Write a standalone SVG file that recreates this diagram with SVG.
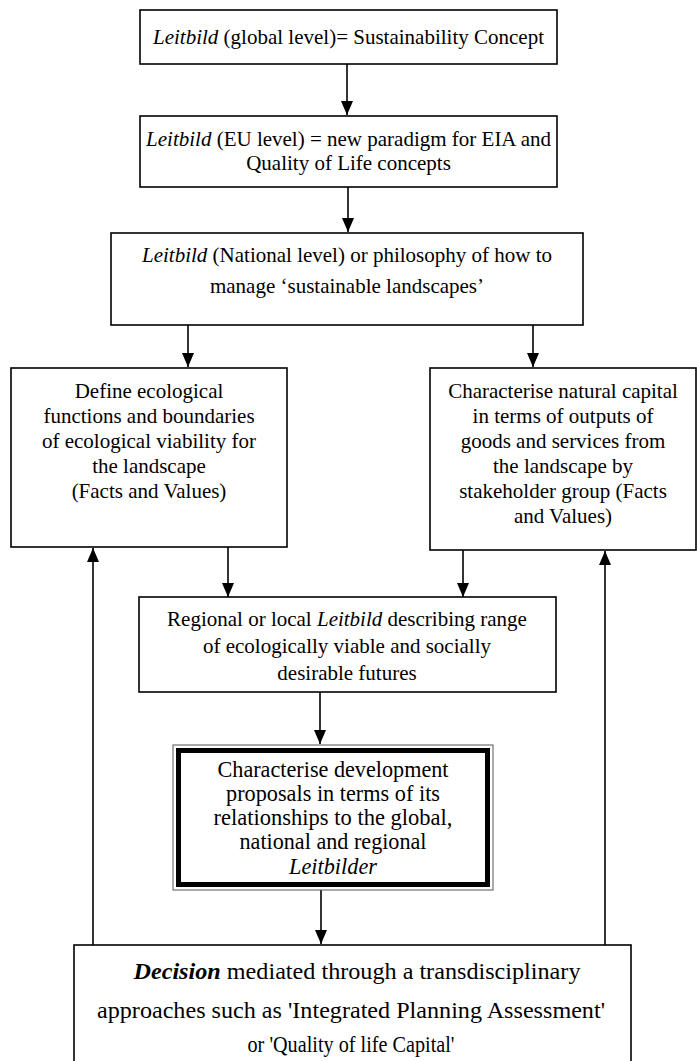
<svg xmlns="http://www.w3.org/2000/svg" width="697" height="1061" viewBox="0 0 697 1061">
<defs>
<marker id="ah" viewBox="0 0 14 12" refX="14" refY="6" markerWidth="14" markerHeight="12" markerUnits="userSpaceOnUse" orient="auto">
<path d="M0,0 L14,6 L0,12 Z" fill="#000"/>
</marker>
<style>
.box{fill:#fff;stroke:#000;stroke-width:1.6}
text{font-family:'Liberation Serif','Times New Roman',serif;font-size:21px;fill:#000;text-anchor:middle}
.c{stroke:#000;stroke-width:1.6;fill:none}
.i{font-style:italic}
</style>
</defs>
<rect width="697" height="1061" fill="#fff"/>
<g id="connectors">
<line class="c" x1="347" y1="64" x2="347" y2="115" marker-end="url(#ah)"/>
<line class="c" x1="348" y1="187" x2="348" y2="232" marker-end="url(#ah)"/>
<line class="c" x1="188" y1="325" x2="188" y2="367" marker-end="url(#ah)"/>
<line class="c" x1="533" y1="325" x2="533" y2="367" marker-end="url(#ah)"/>
<line class="c" x1="228" y1="547" x2="228" y2="597" marker-end="url(#ah)"/>
<line class="c" x1="463" y1="550" x2="463" y2="597" marker-end="url(#ah)"/>
<line class="c" x1="320" y1="692" x2="320" y2="744" marker-end="url(#ah)"/>
<line class="c" x1="321" y1="890" x2="321" y2="944" marker-end="url(#ah)"/>
<line class="c" x1="93" y1="945" x2="93" y2="548" marker-end="url(#ah)"/>
<line class="c" x1="605" y1="948" x2="605" y2="551" marker-end="url(#ah)"/>
</g>
<g id="n1">
<rect class="box" x="140" y="10" width="417" height="54"/>
<text x="348.5" y="44"><tspan class="i">Leitbild</tspan> (global level)= Sustainability Concept</text>
</g>
<g id="n2">
<rect class="box" x="140" y="116" width="417" height="71"/>
<text x="348.5" y="146"><tspan class="i">Leitbild</tspan> (EU level) = new paradigm for EIA and</text>
<text x="348.5" y="170">Quality of Life concepts</text>
</g>
<g id="n3">
<rect class="box" x="111" y="233" width="472" height="92"/>
<text x="347" y="262"><tspan class="i">Leitbild</tspan> (National level) or philosophy of how to</text>
<text x="347" y="293">manage ‘sustainable landscapes’</text>
</g>
<g id="n4">
<rect class="box" x="11" y="368" width="276" height="179"/>
<text x="149" y="398">Define ecological</text>
<text x="149" y="423">functions and boundaries</text>
<text x="149" y="448">of ecological viability for</text>
<text x="149" y="473">the landscape</text>
<text x="149" y="498">(Facts and Values)</text>
</g>
<g id="n5">
<rect class="box" x="430" y="368" width="266" height="182"/>
<text x="563" y="398">Characterise natural capital</text>
<text x="563" y="423">in terms of outputs of</text>
<text x="563" y="448">goods and services from</text>
<text x="563" y="473">the landscape by</text>
<text x="563" y="498">stakeholder group (Facts</text>
<text x="563" y="523">and Values)</text>
</g>
<g id="n6">
<rect class="box" x="139" y="597" width="417" height="95"/>
<text x="347" y="626">Regional or local <tspan class="i">Leitbild</tspan> describing range</text>
<text x="347" y="653">of ecologically viable and socially</text>
<text x="347" y="680">desirable futures</text>
</g>
<g id="n7">
<rect x="173" y="745" width="320" height="145" fill="#fff" stroke="#555" stroke-width="1"/>
<text x="333" y="777" textLength="231" lengthAdjust="spacingAndGlyphs" style="font-size:23px">Characterise development</text>
<text x="333" y="801" textLength="214" lengthAdjust="spacingAndGlyphs" style="font-size:23px">proposals in terms of its</text>
<text x="333" y="825" textLength="239" lengthAdjust="spacingAndGlyphs" style="font-size:23px">relationships to the global,</text>
<text x="333" y="849" textLength="187" lengthAdjust="spacingAndGlyphs" style="font-size:23px">national and regional</text>
<text class="i" x="333" y="874" textLength="88" lengthAdjust="spacingAndGlyphs" style="font-size:23px">Leitbilder</text>
<rect x="178.5" y="750.5" width="309" height="134" fill="none" stroke="#000" stroke-width="5"/>
</g>
<g id="n8">
<rect class="box" x="74" y="945" width="557" height="125"/>
<text x="357" y="979" style="font-size:23px" textLength="447" lengthAdjust="spacingAndGlyphs"><tspan font-weight="bold" class="i">Decision</tspan> mediated through a transdisciplinary</text>
<text x="351" y="1018" style="font-size:23px" textLength="508" lengthAdjust="spacingAndGlyphs">approaches such as 'Integrated Planning Assessment'</text>
<text x="351" y="1052" style="font-size:23px" textLength="207" lengthAdjust="spacingAndGlyphs">or 'Quality of life Capital'</text>
</g>
</svg>
